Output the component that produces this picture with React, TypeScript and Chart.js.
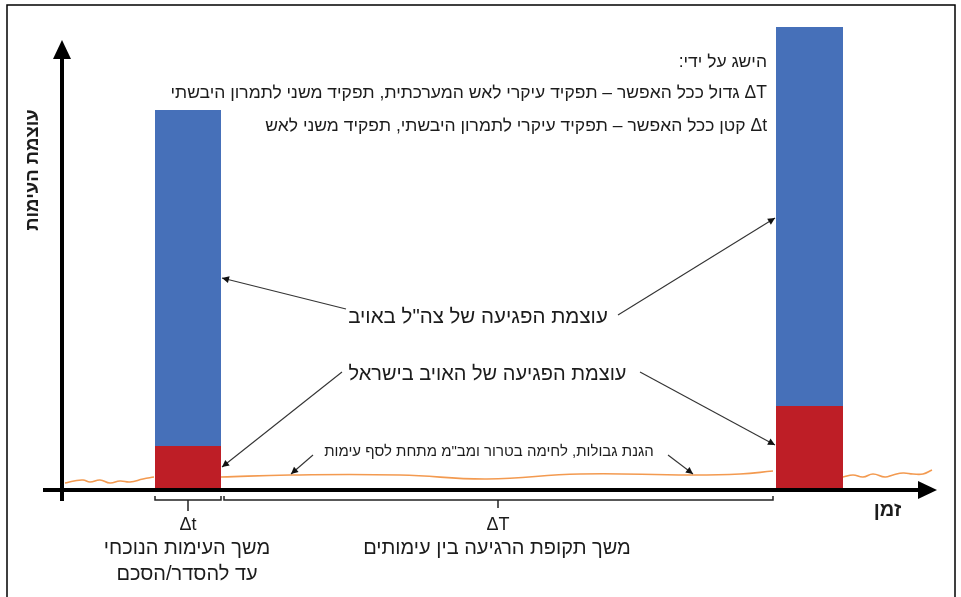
import React, { useEffect, useRef } from "react";
import { Chart, registerables } from "chart.js";

Chart.register(...registerables);

// ---- data (x = time, y = conflict intensity, arbitrary units) ----
const conflicts = ["העימות הנוכחי", "העימות הבא"];
const barStart = [11.5, 73.6];
const barEnd = [18.1, 80.3];
const enemyDamage = [4.4, 8.4]; // red: damage of the enemy in Israel
const idfDamage = [33.6, 37.9]; // blue: damage of the IDF to the enemy (stacked on red)

// low-intensity "below the threshold" activity line (orange)
const lullBeforeX = [2.5, 3.4, 4.3, 5.0, 6.0, 7.0, 8.0, 9.0, 10.3, 11.4];
const lullBeforeY = [0.7, 0.9, 1.0, 0.8, 1.0, 0.7, 0.9, 0.8, 1.1, 1.3];
const lullBetweenX = [18.1, 25.0, 36.0, 44.7, 54.0, 65.0, 70.0, 73.3];
const lullBetweenY = [1.3, 1.5, 1.5, 1.1, 1.6, 1.5, 1.6, 1.9];
const lullAfterX = [80.3, 81.3, 82.3, 83.3, 84.5, 85.3, 86.3, 87.3, 88.3, 89.2];
const lullAfterY = [1.3, 1.5, 1.3, 1.6, 1.3, 1.5, 1.7, 1.6, 1.6, 2.0];

// texts
const yAxisTitle = "עוצמת העימות";
const xAxisTitle = "זמן";
const idfLabel = 'עוצמת הפגיעה של צה"ל באויב';
const enemyLabel = "עוצמת הפגיעה של האויב בישראל";
const lullLabel = 'הגנת גבולות, לחימה בטרור ומב"מ מתחת לסף עימות';
const achievementLines = [
  "הישג על ידי:",
  "ΔT גדול ככל האפשר – תפקיד עיקרי לאש המערכתית, תפקיד משני לתמרון היבשתי",
  "Δt קטן ככל האפשר – תפקיד עיקרי לתמרון היבשתי, תפקיד משני לאש",
];
const shortLabel = "Δt";
const longLabel = "ΔT";
const shortCaption = ["משך העימות הנוכחי", "עד להסדר/הסכם"];
const longCaption = ["משך תקופת הרגיעה בין עימותים"];

const BLUE = "#4670b9";
const RED = "#be1e26";
const ORANGE = "#f39a50";
const INK = "#1c1c1c";
const FONT = '"Liberation Sans", "DejaVu Sans", Arial, sans-serif';

const rect = (x0: number, x1: number, h: number) => [
  { x: x0, y: 0 },
  { x: x0, y: h },
  { x: x1, y: h },
  { x: x1, y: 0 },
];
const zip = (xs: number[], ys: number[]) => xs.map((x, i) => ({ x, y: ys[i] }));

const overlay = {
  id: "diagramOverlay",
  afterDatasetsDraw(chart: any) {
    const { ctx } = chart;
    const xs = chart.scales.x;
    const ys = chart.scales.y;
    const X = (v: number) => xs.getPixelForValue(v);
    const Y = (v: number) => ys.getPixelForValue(v);
    ctx.save();

    // frame
    ctx.strokeStyle = "#000";
    ctx.lineWidth = 1.5;
    ctx.strokeRect(7, 5, 948, 600);

    // axes
    ctx.fillStyle = "#000";
    ctx.strokeStyle = "#000";
    ctx.lineWidth = 4;
    ctx.lineCap = "butt";
    ctx.beginPath();
    ctx.moveTo(X(0.3), Y(0));
    ctx.lineTo(X(88), Y(0));
    ctx.stroke();
    ctx.beginPath();
    ctx.moveTo(X(89.7), Y(0));
    ctx.lineTo(X(87.8), Y(0) - 9);
    ctx.lineTo(X(87.8), Y(0) + 9);
    ctx.closePath();
    ctx.fill();
    ctx.beginPath();
    ctx.moveTo(X(2.2), Y(-1.1));
    ctx.lineTo(X(2.2), Y(43.5));
    ctx.stroke();
    ctx.beginPath();
    ctx.moveTo(X(2.2), Y(45));
    ctx.lineTo(X(2.2) - 9, Y(43.1));
    ctx.lineTo(X(2.2) + 9, Y(43.1));
    ctx.closePath();
    ctx.fill();

    // brackets under the axis
    const bracket = (x0: number, x1: number, xc: number, tick: number) => {
      ctx.lineWidth = 1.5;
      ctx.strokeStyle = "#222";
      const yb = Y(0) + 10;
      ctx.beginPath();
      ctx.moveTo(X(x0), yb - 4);
      ctx.lineTo(X(x0), yb);
      ctx.lineTo(X(x1), yb);
      ctx.lineTo(X(x1), yb - 4);
      ctx.moveTo(X(xc), yb);
      ctx.lineTo(X(xc), yb + tick);
      ctx.stroke();
    };
    bracket(barStart[0], barEnd[0], (barStart[0] + barEnd[0]) / 2, 11);
    bracket(barEnd[0] + 0.3, barStart[1] - 0.3, 45.8, 8);

    // arrows
    const arrow = (x1: number, y1: number, x2: number, y2: number) => {
      const ax = X(x1), ay = Y(y1), bx = X(x2), by = Y(y2);
      const ang = Math.atan2(by - ay, bx - ax);
      ctx.strokeStyle = "#333";
      ctx.fillStyle = "#111";
      ctx.lineWidth = 1.1;
      ctx.beginPath();
      ctx.moveTo(ax, ay);
      ctx.lineTo(bx, by);
      ctx.stroke();
      ctx.beginPath();
      ctx.moveTo(bx, by);
      ctx.lineTo(bx - 7 * Math.cos(ang) + 3.5 * Math.sin(ang), by - 7 * Math.sin(ang) - 3.5 * Math.cos(ang));
      ctx.lineTo(bx - 7 * Math.cos(ang) - 3.5 * Math.sin(ang), by - 7 * Math.sin(ang) + 3.5 * Math.cos(ang));
      ctx.closePath();
      ctx.fill();
    };
    arrow(30.6, 18.1, barEnd[0] + 0.1, 21.2);
    arrow(57.8, 17.5, barStart[1] - 0.1, 27.2);
    arrow(30.2, 11.8, barEnd[0] + 0.1, 2.3);
    arrow(60.0, 11.8, barStart[1] - 0.1, 4.5);
    arrow(27.3, 3.5, 25.1, 1.6);
    arrow(62.8, 3.5, 65.3, 1.6);

    // texts
    ctx.direction = "rtl";
    ctx.textBaseline = "middle";
    ctx.fillStyle = INK;
    const text = (s: string, x: number, y: number, size: number, align: string, weight = "normal") => {
      ctx.font = `${weight} ${size}px ${FONT}`;
      ctx.textAlign = align;
      ctx.fillText(s, x, y);
    };
    achievementLines.forEach((s, i) => text(s, X(72.7), Y([42.8, 39.7, 36.4][i]), 17.5, "right"));
    text(idfLabel, X(43.8), Y(17.3), 20.5, "center");
    text(enemyLabel, X(44.75), Y(11.6), 20, "center");
    text(lullLabel, X(44.9), Y(3.8), 15, "center");
    text(shortLabel, X((barStart[0] + barEnd[0]) / 2), Y(-3.5), 18, "center");
    text(longLabel, X(45.8), Y(-3.5), 18, "center");
    shortCaption.forEach((s, i) => text(s, X(14.7), Y(-5.8 - i * 2.6), 20, "center"));
    longCaption.forEach((s, i) => text(s, X(45.7), Y(-5.8 - i * 2.6), 20, "center"));
    text(xAxisTitle, X(84.75), Y(-2.0), 20, "center", "bold");

    ctx.save();
    ctx.translate(33, Y(32));
    ctx.rotate(-Math.PI / 2);
    text(yAxisTitle, 0, 0, 18.5, "center", "bold");
    ctx.restore();

    ctx.restore();
  },
};

export default function App() {
  const ref = useRef<HTMLCanvasElement | null>(null);
  useEffect(() => {
    if (!ref.current) return;
    const datasets: any[] = [];
    conflicts.forEach((name, i) => {
      datasets.push({
        label: name + " – צה\"ל",
        data: rect(barStart[i], barEnd[i], enemyDamage[i] + idfDamage[i]),
        showLine: true,
        fill: "origin",
        backgroundColor: BLUE,
        borderColor: "rgba(0,0,0,0)",
        borderWidth: 0,
        pointRadius: 0,
        tension: 0,
        order: 3,
      });
    });
    conflicts.forEach((name, i) => {
      datasets.push({
        label: name + " – אויב",
        data: rect(barStart[i], barEnd[i], enemyDamage[i]),
        showLine: true,
        fill: "origin",
        backgroundColor: RED,
        borderColor: "rgba(0,0,0,0)",
        borderWidth: 0,
        pointRadius: 0,
        tension: 0,
        order: 2,
      });
    });
    [
      zip(lullBeforeX, lullBeforeY),
      zip(lullBetweenX, lullBetweenY),
      zip(lullAfterX, lullAfterY),
    ].forEach((d) => {
      datasets.push({
        label: "רגיעה",
        data: d,
        showLine: true,
        fill: false,
        borderColor: ORANGE,
        borderWidth: 1.6,
        pointRadius: 0,
        tension: 0.45,
        order: 1,
      });
    });

    const chart = new Chart(ref.current, {
      type: "scatter",
      data: { datasets },
      options: {
        animation: false,
        responsive: true,
        maintainAspectRatio: false,
        layout: { padding: { left: 40, right: 21, top: 20, bottom: 107 } },
        scales: {
          x: { type: "linear", min: 0, max: 90, display: false },
          y: { type: "linear", min: 0, max: 47, display: false },
        },
        plugins: { legend: { display: false }, tooltip: { enabled: false } },
      },
      plugins: [overlay],
    });
    return () => chart.destroy();
  }, []);

  return (
    <div style={{ position: "absolute", left: 0, top: 0, width: 961, height: 597, background: "#fff" }}>
      <canvas ref={ref} />
    </div>
  );
}
